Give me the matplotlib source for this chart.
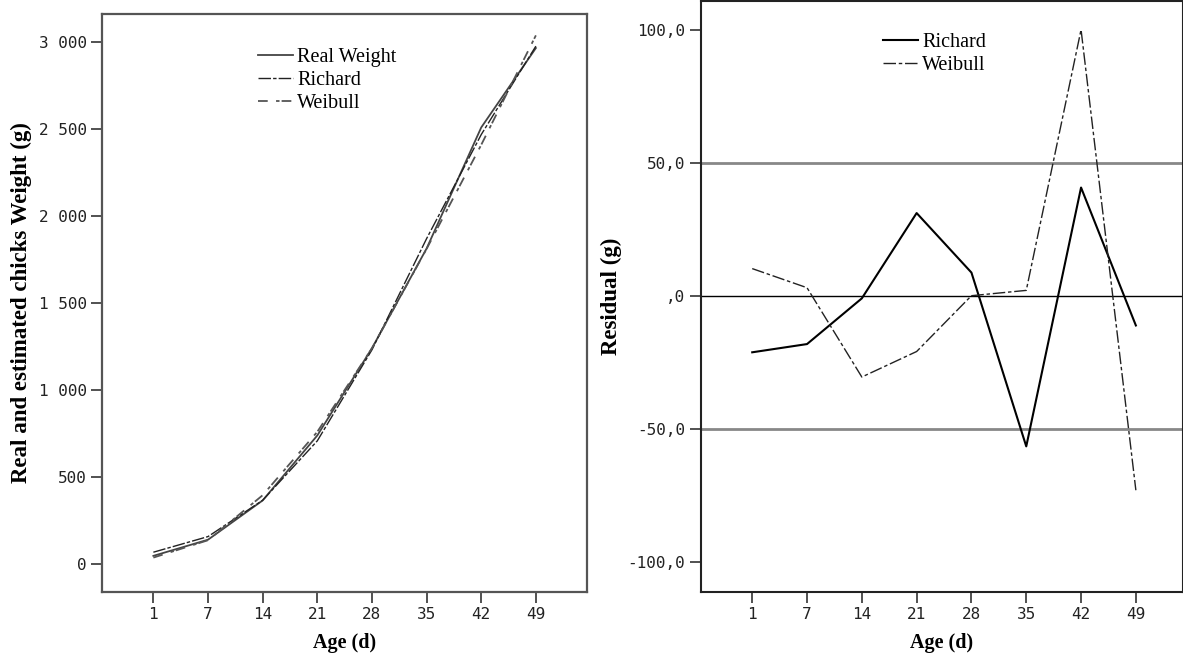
import matplotlib
matplotlib.use("Agg")
import matplotlib.pyplot as plt

# Data
ages = ["1", "7", "14", "21", "28", "35", "42", "49"]
real_weight = [45, 138, 364, 738, 1240, 1814, 2511, 2968]
richard_est = [66, 156, 365, 707, 1231, 1871, 2470, 2979]
weibull_est = [35, 135, 394, 759, 1240, 1812, 2411, 3041]

richard_res = [-21.1, -18.0, -0.8, 31.3, 8.9, -56.5, 40.9, -11.0]
weibull_res = [10.4, 3.2, -30.4, -20.8, 0.2, 2.2, 100.3, -73.0]

weight_ticks = [0, 500, 1000, 1500, 2000, 2500, 3000]
weight_labels = ["0", "500", "1 000", "1 500", "2 000", "2 500", "3 000"]
res_ticks = [-100, -50, 0, 50, 100]
res_labels = ["-100,0", "-50,0", ",0", "50,0", "100,0"]
ref_lines = [-50, 50]

plt.rcParams["lines.scale_dashes"] = False
serif = "Liberation Serif"
mono = "DejaVu Sans Mono"

fig = plt.figure(figsize=(11.83, 6.66), dpi=100)
W, H = 1183, 666
ax1 = fig.add_axes([102 / W, 1 - 592 / H, (586.7 - 102) / W, (592 - 14) / H])
ax2 = fig.add_axes([700.7 / W, 1 - 592 / H, (1183 - 700.7) / W, (592 - 1) / H])

x = list(range(len(ages)))

# Left panel: weights
ax1.plot(x, real_weight, color="#444444", lw=1.3, label="Real Weight")
ax1.plot(x, richard_est, color="#222222", lw=1.0, ls=(0, (9, 1.5, 2.5, 1.5)), label="Richard")
ax1.plot(x, weibull_est, color="#555555", lw=1.3, ls=(0, (7, 6, 2.5, 1.5)), label="Weibull")
ax1.set_xlim(-0.94, 7.93)
ax1.set_ylim(-163, 3164)
ax1.set_yticks(weight_ticks)
ax1.set_yticklabels(weight_labels)
ax1.set_ylabel("Real and estimated chicks Weight (g)", fontfamily=serif,
               fontweight="bold", fontsize=16.5, labelpad=5)
for sp in ax1.spines.values():
    sp.set_color("#555555")
    sp.set_linewidth(1.6)

# Right panel: residuals
for v in ref_lines:
    ax2.axhline(v, color="#888888", lw=2.0, zorder=1)
ax2.axhline(0, color="black", lw=1.0, zorder=1)
ax2.plot(x, richard_res, color="black", lw=1.5, label="Richard", zorder=3)
ax2.plot(x, weibull_res, color="#222222", lw=1.0, ls=(0, (9, 2, 2.5, 2)), label="Weibull", zorder=3)
ax2.set_xlim(-0.94, 7.86)
ax2.set_ylim(-111.3, 111.1)
ax2.set_yticks(res_ticks)
ax2.set_yticklabels(res_labels)
ax2.set_ylabel("Residual (g)", fontfamily=serif, fontweight="bold", fontsize=16.5, labelpad=4)
for sp in ax2.spines.values():
    sp.set_color("#222222")
    sp.set_linewidth(1.5)

for ax in (ax1, ax2):
    ax.set_xticks(x)
    ax.set_xticklabels(ages)
    ax.set_xlabel("Age (d)", fontfamily=serif, fontweight="bold", fontsize=14.5, labelpad=8)
    ax.tick_params(axis="both", direction="out", length=8, width=1.2, color="#333333",
                   labelsize=11.5, pad=3)
    for lab in ax.get_xticklabels() + ax.get_yticklabels():
        lab.set_fontfamily(mono)
        lab.set_color("#222222")
    leg = ax.legend(loc="upper left", frameon=False, prop={"family": serif, "size": 14.5},
                    handlelength=1.75, handletextpad=0.2, labelspacing=0.2,
                    borderaxespad=0)

ax1.get_legend().set_bbox_to_anchor((250 / W, 1 - 40 / H), transform=fig.transFigure)
ax2.get_legend().set_bbox_to_anchor((875 / W, 1 - 25 / H), transform=fig.transFigure)

fig.savefig("out.png", dpi=100)
